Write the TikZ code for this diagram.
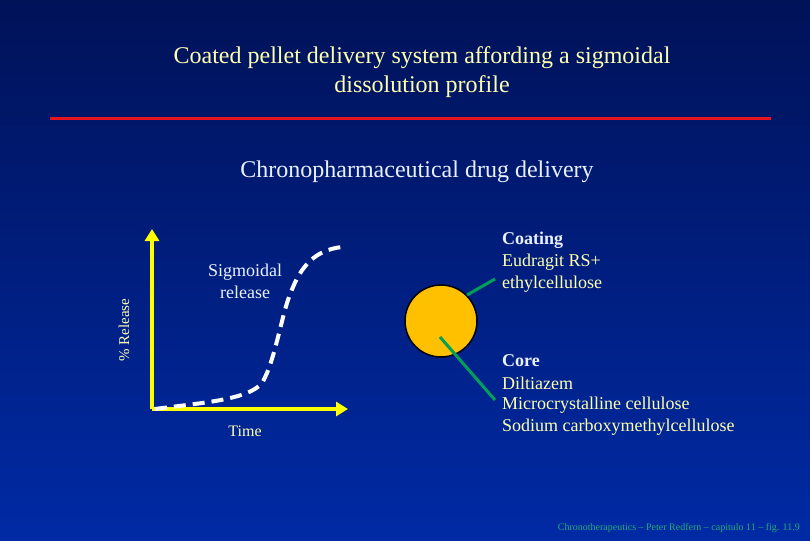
\documentclass[tikz,border=0pt]{standalone}
\usepackage{fontspec}
\setmainfont{Liberation Serif}
\usetikzlibrary{arrows.meta}
\definecolor{bgtop}{RGB}{0,18,88}
\definecolor{bgbot}{RGB}{0,42,165}
\definecolor{paley}{RGB}{255,255,176}
\definecolor{offw}{RGB}{235,240,255}
\definecolor{axisy}{RGB}{255,255,0}
\definecolor{linkg}{RGB}{0,160,90}
\definecolor{pellet}{RGB}{255,192,0}
\definecolor{redline}{RGB}{230,20,30}
\definecolor{footg}{RGB}{40,170,120}
\tikzset{
  txt/.style={inner sep=0pt, text=offw},
  lbl/.style={inner sep=0pt, anchor=west, text=paley, font=\fontsize{18}{20}\selectfont},
  hdr/.style={inner sep=0pt, anchor=west, text=offw, font=\fontsize{18}{20}\selectfont\bfseries},
  axis/.style={draw=axisy, line width=3.5pt, -{Triangle[length=12pt,width=14pt]}},
  link/.style={draw=linkg, line width=3pt},
}
\begin{document}
\begin{tikzpicture}[x=1pt,y=-1pt]
\useasboundingbox (0,0) rectangle (810,540);
\shade[top color=bgtop, bottom color=bgbot] (0,0) rectangle (810,540);
% title
\node[inner sep=0pt, text=paley, font=\fontsize{24}{29}\selectfont, align=center] (title) at (422,72)
  {Coated pellet delivery system affording a sigmoidal\\dissolution profile};
\coordinate (rl) at (50,119);
\coordinate (rr) at (771,119);
\draw[redline, line width=3pt] (rl) -- (rr);
\node[txt, font=\fontsize{24}{26}\selectfont] (sub) at (417,172) {Chronopharmaceutical drug delivery};
% axes
\coordinate (o) at (152,409);
\coordinate (yt) at (152,229);
\coordinate (xt) at (348,409);
\draw[axis] (o) -- (yt);
\draw[axis] (o) -- (xt);
\node[inner sep=0pt, text=paley, font=\fontsize{15}{17}\selectfont, rotate=90] (ylab) at (124,330) {\% Release};
\node[inner sep=0pt, text=paley, font=\fontsize{16}{18}\selectfont] (xlab) at (245,431) {Time};
\node[txt, font=\fontsize{18}{22}\selectfont, align=center] (sig) at (245,281) {Sigmoidal\\release};
% curve
\draw[white, line width=4pt, dash pattern=on 12pt off 7pt]
  (155,409) .. controls (200,403) and (248,400) .. (262,383)
  .. controls (275,362) and (282,312) .. (291,292)
  .. controls (301,266) and (315,250) .. (342,247);
% pellet
\node[circle, draw=black, line width=1.5pt, fill=pellet, minimum size=72pt, inner sep=0pt] (p) at (441,321) {};
\coordinate (c1) at (495,279);
\coordinate (c2) at (495,400);
\coordinate (pc) at (440,337);
\draw[link] (p.45) -- (c1);
\draw[link] (pc) -- (c2);
% texts
\node[hdr] (coat) at (502,240) {Coating};
\node[lbl] (eud) at (502,262) {Eudragit RS+};
\node[lbl] (eth) at (502,284) {ethylcellulose};
\node[hdr] (core) at (502,361) {Core};
\node[lbl] (dil) at (502,383) {Diltiazem};
\node[lbl] (mcc) at (502,405) {Microcrystalline cellulose};
\node[lbl] (scm) at (502,427) {Sodium carboxymethylcellulose};
\node[inner sep=0pt, anchor=east, text=footg, font=\fontsize{10}{12}\selectfont] (foot) at (800,528)
  {Chronotherapeutics -- Peter Redfern -- capitulo 11 -- fig. 11.9};
\end{tikzpicture}
\end{document}
